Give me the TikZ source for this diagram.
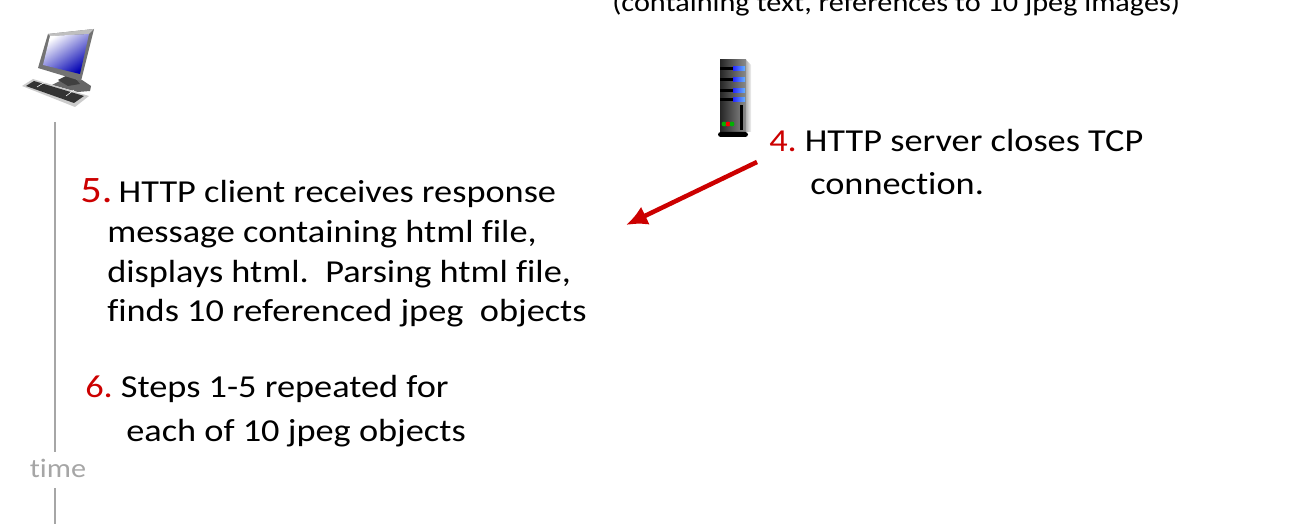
\documentclass[tikz,border=0pt]{standalone}
\usepackage{fontspec}
\setmainfont{Carlito}[FakeStretch=1.135,Ligatures=CommonOff]
\usepackage[dvipsnames]{xcolor}
\usetikzlibrary{arrows.meta}
\definecolor{stepred}{RGB}{204,0,0}
\definecolor{timegray}{RGB}{166,166,166}
\newcommand{\stepnum}[1]{\textcolor{stepred}{#1}}

\begin{document}
\begin{tikzpicture}[x=0.75pt,y=-0.75pt,>=latex,
    main text/.style={anchor=base west,inner sep=0pt,font=\fontsize{24}{28}\selectfont},
    top text/.style={anchor=base west,inner sep=0pt,font=\fontsize{20}{24}\selectfont},
    time text/.style={inner sep=0pt,text=timegray,font=\fontsize{20}{24}\selectfont},
    time line/.style={draw=timegray,line width=1.5pt},
    red arrow/.style={draw=stepred,line width=3.4pt,-{Latex[length=16pt,width=15pt]}}]
    \useasboundingbox (0,0) rectangle (1306,524);

    % client
    \fill[black!60] (52,85) -- (66,78) -- (82,80) -- (91,86) -- (90,91) -- (78,92) -- cycle;
    \fill[black!75] (58,80) -- (66,76) -- (74,77) -- (80,84) -- (68,86) -- cycle;
    \fill[black!55] (48,34) -- (94,29) -- (81,81) -- (38,68) -- cycle;
    \fill[black!25] (48,34) -- (94,29) -- (89,34) -- (50,36) -- cycle;
    \shade[left color=white,right color=blue!70!black,shading angle=35] (50,36) -- (89,34) -- (80,74) -- (43,65) -- cycle;
    \fill[black!20] (22,86) -- (33,79) -- (89,96) -- (75,107) -- cycle;
    \fill[black!80] (26,86) -- (34,81) -- (84,96) -- (74,103) -- cycle;
    \draw[white,line width=0.4pt] (37,87) -- (45,82) (66,96) -- (74,90);

    % server
    \shade[left color=black!85,right color=black!45] (720,60) rectangle (746,132);
    \shade[left color=black!30,right color=black!5] (746,60) -- (751,65) -- (751,132) -- (746,132) -- cycle;
    \foreach \y in {69,80,91,100} {
        \fill[black] (720,\y-1.5) rectangle (734,\y+1.5);
        \shade[left color=blue!85,right color=blue!50!cyan!60] (733,\y-2) rectangle (745,\y+2);
    }
    \fill[black] (740,105) rectangle (743,130);
    \fill[green!70!black] (724,124) circle (2.4);
    \fill[red] (728,124) circle (2.4);
    \fill[green!70!black] (732,124) circle (2.4);
    \fill[black,rounded corners=2pt] (718,132) rectangle (748,137);

    % top line is cut off by the page
    \node[top text] (page) at (612,12) {(containing text, references to 10 jpeg images)};

    % step 4
    \node[main text] (s4) at (769,152) {\stepnum{4.}\hspace{-2.2pt} HTTP server closes TCP};
    \node[main text] (s4b) at (810,195) {connection.};

    % step 5
    \node[main text] (s5) at (80,202) {\stepnum{\fontsize{28}{32}\selectfont 5.}\hspace{-3.5pt} HTTP client receives response};
    \node[main text] (s5b) at (107,242) {message containing html file,};
    \node[main text] (s5c) at (107,282) {displays html.\ \ Parsing html file,};
    \node[main text] (s5d) at (107,321) {finds 10 referenced jpeg\ \ objects};

    % step 6
    \node[main text] (s6) at (85,397) {\stepnum{6.}\hspace{-2.2pt} Steps 1-5 repeated for};
    \node[main text] (s6b) at (126,441) {each of 10 jpeg objects};

    % time axis
    \node[time text] (time) at (58,468) {time};
    \coordinate (t1) at (54.5,122);
    \coordinate (t2) at (54.5,452);
    \coordinate (t3) at (54.5,488);
    \coordinate (t4) at (54.5,524);
    \path[time line] (t1) edge (t2) (t3) edge (t4);

    % arrow
    \coordinate (a1) at (757,162);
    \coordinate (a2) at (626,225);
    \draw[red arrow] (a1) -- (a2);
\end{tikzpicture}
\end{document}
